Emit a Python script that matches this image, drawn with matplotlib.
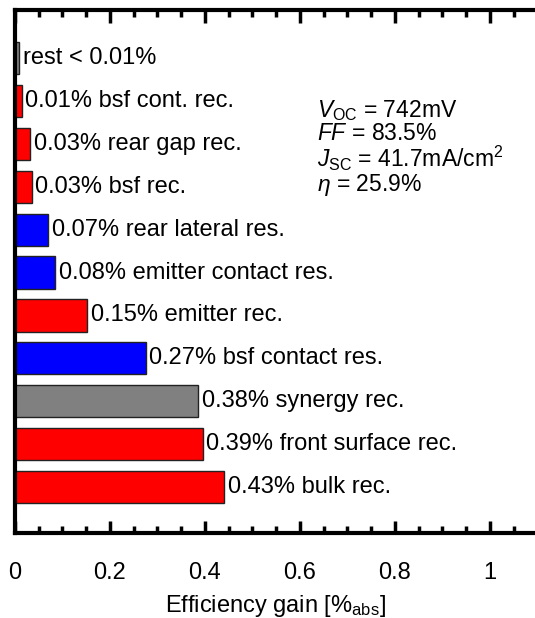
import numpy as np
import matplotlib.pyplot as plt
from matplotlib.ticker import MultipleLocator

plt.rcParams['font.family'] = ['Liberation Sans', 'DejaVu Sans']
plt.rcParams['mathtext.fontset'] = 'custom'
plt.rcParams['mathtext.rm'] = 'Liberation Sans'
plt.rcParams['mathtext.it'] = 'Liberation Sans:italic'

# datos, de abajo hacia arriba
nombres = ["bulk rec.", "front surface rec.", "synergy rec.", "bsf contact res.",
           "emitter rec.", "emitter contact res.", "rear lateral res.", "bsf rec.",
           "rear gap rec.", "bsf cont. rec.", "rest < 0.01%"]
etiquetas = ["0.43%", "0.39%", "0.38%", "0.27%", "0.15%", "0.08%", "0.07%",
             "0.03%", "0.03%", "0.01%", ""]
valores = [0.44, 0.395, 0.385, 0.275, 0.152, 0.085, 0.07, 0.035, 0.032, 0.014, 0.008]
colores = ["#ff0000", "#ff0000", "#808080", "#0000ff", "#ff0000", "#0000ff",
           "#0000ff", "#ff0000", "#ff0000", "#ff0000", "#808080"]

# parámetros de la celda
param_txt = ["$V_{\\mathrm{OC}}$ = 742mV", "$FF$ = 83.5%",
             "$J_{\\mathrm{SC}}$ = 41.7mA/cm$^2$", "$\\eta$ = 25.9%"]

fig = plt.figure(figsize=(5.35, 6.18), dpi=100)
ax = fig.add_axes([0.028, 0.1375, 0.972, 0.8465])

y = np.arange(len(valores))
ax.barh(y, valores, height=0.75, color=colores, edgecolor="#222222", linewidth=1)

# textos al lado de cada barra
for yi, v, et, nom in zip(y, valores, etiquetas, nombres):
    texto = (et + " " + nom).strip()
    ax.text(v + 0.008, yi, texto, va="center", ha="left", fontsize=17)

ax.text(0.637, 9.06, "\n".join(param_txt), va="top", ha="left",
        fontsize=16.5, linespacing=0.95)

ax.set_xlim(0, 1.095)
ax.set_ylim(-1.07, 10 + 1.12)
ax.set_yticks([])
ax.xaxis.set_minor_locator(MultipleLocator(0.05))
ax.set_xticks([0, 0.2, 0.4, 0.6, 0.8, 1.0])
ax.set_xticklabels(["0", "0.2", "0.4", "0.6", "0.8", "1"])
ax.tick_params(axis="x", which="major", direction="in", top=True, length=9,
               width=2.5, labelsize=17, pad=21)
ax.tick_params(axis="x", which="minor", direction="in", top=True, length=5, width=2.5)
ax.spines["right"].set_visible(False)
for s in ["left", "top", "bottom"]:
    ax.spines[s].set_linewidth(3)
ax.set_xlabel("Efficiency gain [%$_{\\mathrm{abs}}$]", fontsize=17, labelpad=6)

plt.savefig("out.png", dpi=100)
